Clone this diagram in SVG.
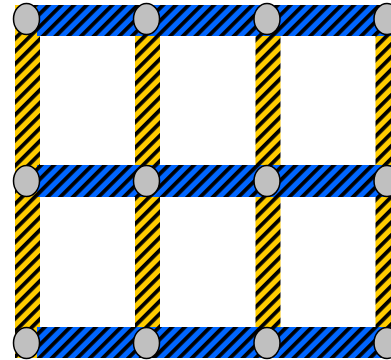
<svg xmlns="http://www.w3.org/2000/svg" width="391" height="360" viewBox="0 0 391 360">
<defs>
<pattern id="pb" patternUnits="userSpaceOnUse" width="9" height="9" patternTransform="rotate(45)">
<rect width="9" height="9" fill="#0066ff"/><rect width="3.8" height="9" fill="#000"/>
</pattern>
<pattern id="py" patternUnits="userSpaceOnUse" width="9" height="9" patternTransform="rotate(45)">
<rect width="9" height="9" fill="#ffcc00"/><rect width="3.8" height="9" fill="#000"/>
</pattern>
<style>
.v{fill:url(#py)}
.h{fill:url(#pb)}
.n{fill:#c0c0c0;stroke:#000;stroke-width:1.5}
</style>
</defs>
<rect width="391" height="360" fill="#fff"/>
<g id="connectors">
<rect class="v" x="15" y="5" width="25" height="353"/>
<rect class="v" x="135" y="5" width="25" height="353"/>
<rect class="v" x="255.5" y="5" width="25" height="353"/>
<rect class="v" x="375.5" y="5" width="25" height="353"/>
<rect class="h" x="37" y="5" width="360" height="31"/>
<rect class="h" x="37" y="165" width="360" height="32"/>
<rect class="h" x="37" y="327" width="360" height="31"/>
</g>
<g id="n1"><ellipse class="n" cx="26.5" cy="19" rx="13" ry="15.5"/></g>
<g id="n2"><ellipse class="n" cx="146.5" cy="19" rx="13" ry="15.5"/></g>
<g id="n3"><ellipse class="n" cx="267" cy="19" rx="13" ry="15.5"/></g>
<g id="n4"><ellipse class="n" cx="387" cy="19" rx="13" ry="15.5"/></g>
<g id="n5"><ellipse class="n" cx="26.5" cy="181" rx="13" ry="15.5"/></g>
<g id="n6"><ellipse class="n" cx="146.5" cy="181" rx="13" ry="15.5"/></g>
<g id="n7"><ellipse class="n" cx="267" cy="181" rx="13" ry="15.5"/></g>
<g id="n8"><ellipse class="n" cx="387" cy="181" rx="13" ry="15.5"/></g>
<g id="n9"><ellipse class="n" cx="26.5" cy="343" rx="13" ry="15.5"/></g>
<g id="n10"><ellipse class="n" cx="146.5" cy="343" rx="13" ry="15.5"/></g>
<g id="n11"><ellipse class="n" cx="267" cy="343" rx="13" ry="15.5"/></g>
<g id="n12"><ellipse class="n" cx="387" cy="343" rx="13" ry="15.5"/></g>
</svg>
